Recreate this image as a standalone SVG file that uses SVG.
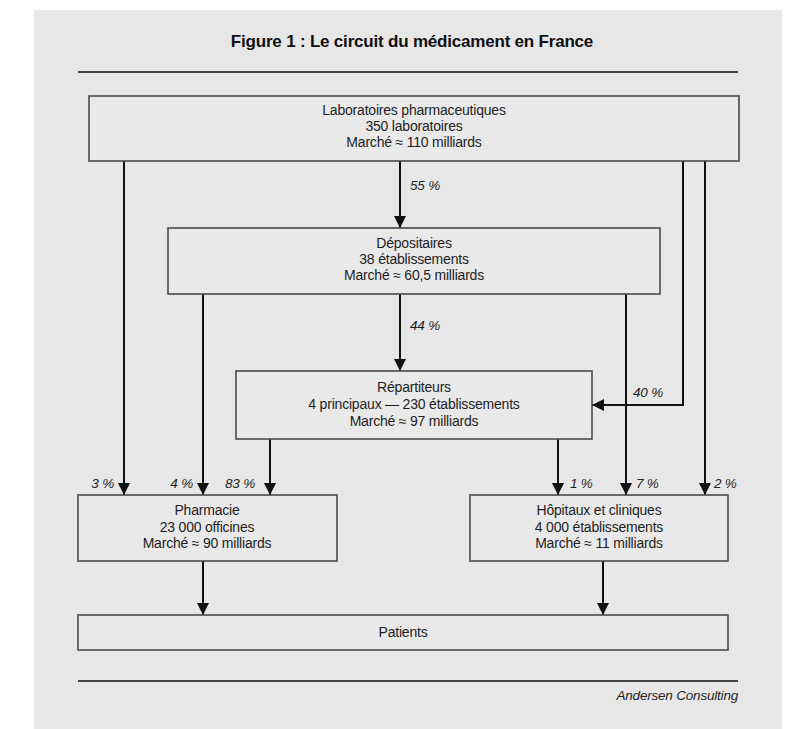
<svg xmlns="http://www.w3.org/2000/svg" width="807" height="729" viewBox="0 0 807 729">
<defs>
<marker id="ah" viewBox="0 0 12 12" refX="12" refY="6" markerWidth="12" markerHeight="12" markerUnits="userSpaceOnUse" orient="auto">
<path d="M0,0 L12,6 L0,12 Z" fill="#111"/>
</marker>
<style>
.box{fill:#e9e9e9;stroke:#4a4a4a;stroke-width:1.6}
.t{font-family:"Liberation Sans",Arial,sans-serif;font-size:14px;fill:#1e1e1e;text-anchor:middle;letter-spacing:-0.2px}
.p{font-family:"Liberation Sans",Arial,sans-serif;font-size:13.5px;font-style:italic;fill:#1e1e1e;letter-spacing:-0.2px}
.c{fill:none;stroke:#111;stroke-width:2;marker-end:url(#ah)}
.rule{stroke:#444;stroke-width:2}
</style>
</defs>
<rect x="0" y="0" width="807" height="729" fill="#ffffff"/>
<rect x="34" y="10" width="748" height="719" fill="#e7e7e7"/>
<text x="412" y="47" font-family="Liberation Sans, Arial, sans-serif" font-size="17" font-weight="bold" fill="#111" text-anchor="middle" letter-spacing="-0.2">Figure 1 : Le circuit du médicament en France</text>
<line class="rule" x1="78" y1="72" x2="738" y2="72"/>
<line class="rule" x1="78" y1="681" x2="738" y2="681"/>
<text x="738" y="700" class="p" font-size="14" text-anchor="end">Andersen Consulting</text>

<g id="connectors">
<path class="c" d="M124,161 V495"/>
<path class="c" d="M400,161 V228"/>
<path class="c" d="M683,161 V405 H592"/>
<path class="c" d="M705,161 V495"/>
<path class="c" d="M203,294 V495"/>
<path class="c" d="M400,294 V371"/>
<path class="c" d="M626,294 V495"/>
<path class="c" d="M270,439 V495"/>
<path class="c" d="M558,439 V495"/>
<path class="c" d="M203,561 V615"/>
<path class="c" d="M603,561 V615"/>
<text class="p" x="410" y="190">55 %</text>
<text class="p" x="410" y="330">44 %</text>
<text class="p" x="633" y="397">40 %</text>
<text class="p" x="114" y="488" text-anchor="end">3 %</text>
<text class="p" x="193" y="488" text-anchor="end">4 %</text>
<text class="p" x="255" y="488" text-anchor="end">83 %</text>
<text class="p" x="570" y="488">1 %</text>
<text class="p" x="636" y="488">7 %</text>
<text class="p" x="714" y="488">2 %</text>
</g>

<g id="laboratoires">
<rect class="box" x="89" y="96" width="650" height="65"/>
<text class="t" x="414" y="115">Laboratoires pharmaceutiques</text>
<text class="t" x="414" y="131">350 laboratoires</text>
<text class="t" x="414" y="147">Marché ≈ 110 milliards</text>
</g>
<g id="depositaires">
<rect class="box" x="168" y="228" width="492" height="66"/>
<text class="t" x="414" y="248">Dépositaires</text>
<text class="t" x="414" y="264">38 établissements</text>
<text class="t" x="414" y="280">Marché ≈ 60,5 milliards</text>
</g>
<g id="repartiteurs">
<rect class="box" x="236" y="371" width="356" height="68"/>
<text class="t" x="414" y="392">Répartiteurs</text>
<text class="t" x="414" y="409">4 principaux — 230 établissements</text>
<text class="t" x="414" y="426">Marché ≈ 97 milliards</text>
</g>
<g id="pharmacie">
<rect class="box" x="78" y="495" width="259" height="66"/>
<text class="t" x="207" y="515">Pharmacie</text>
<text class="t" x="207" y="531.5">23 000 officines</text>
<text class="t" x="207" y="548">Marché ≈ 90 milliards</text>
</g>
<g id="hopitaux">
<rect class="box" x="470" y="495" width="258" height="66"/>
<text class="t" x="599" y="515">Hôpitaux et cliniques</text>
<text class="t" x="599" y="531.5">4 000 établissements</text>
<text class="t" x="599" y="548">Marché ≈ 11 milliards</text>
</g>
<g id="patients">
<rect class="box" x="78" y="615" width="650" height="35"/>
<text class="t" x="403" y="637">Patients</text>
</g>
</svg>
